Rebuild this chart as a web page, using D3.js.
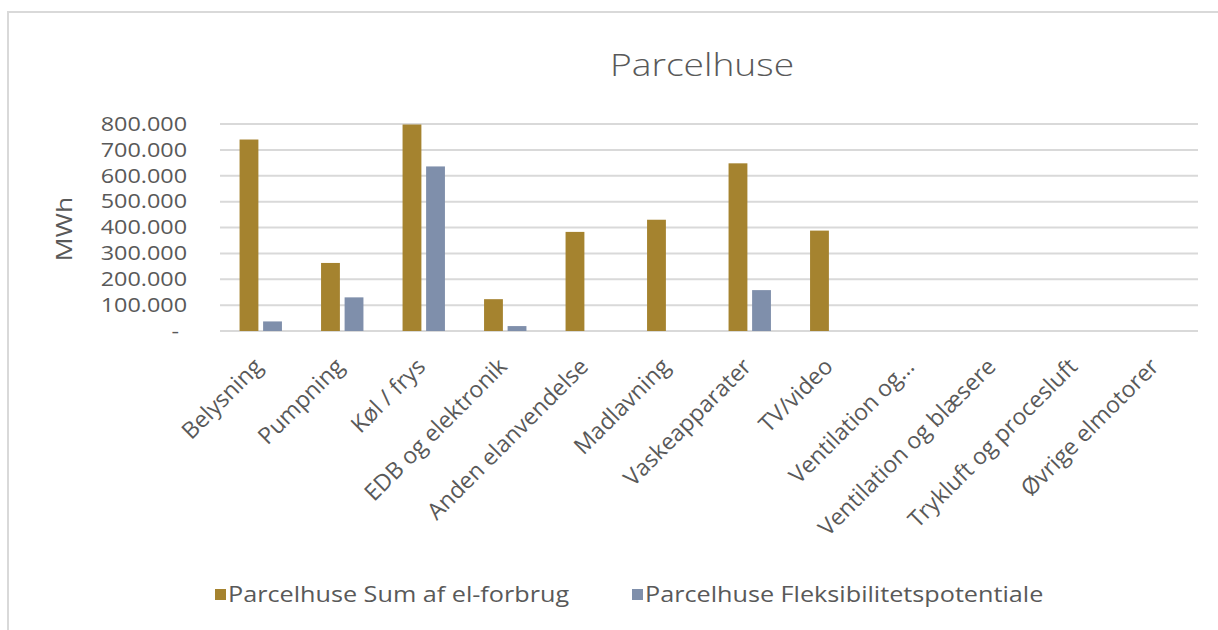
<!DOCTYPE html>
<html>
<head>
<meta charset="utf-8">
<script src="https://cdn.jsdelivr.net/npm/d3@7"></script>
<style>
	body { margin: 0; background: #fff; }
	text { font-family: "Open Sans", Lato, sans-serif; fill: #595959; }
</style>
</head>
<body>
<div class="chart"></div>
<script>
var categories = ["Belysning", "Pumpning", "Køl / frys", "EDB og elektronik", "Anden elanvendelse",
	"Madlavning", "Vaskeapparater", "TV/video", "Ventilation og…", "Ventilation og blæsere",
	"Trykluft og procesluft", "Øvrige elmotorer"];

var seriesNames = ["Parcelhuse Sum af el-forbrug", "Parcelhuse Fleksibilitetspotentiale"];

var forbrug = [740000, 263000, 798000, 123000, 383000, 430000, 648000, 388000, 0, 0, 0, 0];
var fleks = [37000, 130000, 636000, 19000, 0, 0, 158000, 0, 0, 0, 0, 0];

var yTicks = [0, 100000, 200000, 300000, 400000, 500000, 600000, 700000, 800000];

var colors = ["#a5832f", "#7f8fab"];

(function() {
	var width = 1218,
		height = 630;

	var left = 220, right = 1198,
		top = 124, bottom = 331;

	// the original text is drawn a bit wider than Open Sans
	var stretch = "scale(1.2,1)";

	var svg = d3.select(".chart").append("svg")
		.attr("width", width)
		.attr("height", height);

	// chart frame, only top and left edges show
	svg.append("rect")
		.attr("x", 8).attr("y", 12)
		.attr("width", 1300).attr("height", 700)
		.attr("fill", "none")
		.attr("stroke", "#d9d9d9")
		.attr("stroke-width", 2);

	var locale = d3.formatLocale({decimal: ",", thousands: ".", grouping: [3], currency: ["", ""]});
	var fmt = locale.format(",.0f");

	var x0 = d3.scaleBand()
		.domain(categories)
		.range([left, right])
		.paddingInner(0.48)
		.paddingOuter(0.24);

	var x1 = d3.scaleBand()
		.domain([0, 1])
		.range([0, x0.bandwidth()])
		.paddingInner(0.2);

	var y = d3.scaleLinear()
		.domain([0, 800000])
		.range([bottom, top]);

	// grid
	svg.append("g").selectAll("line")
		.data(yTicks)
		.enter().append("line")
		.attr("x1", left).attr("x2", right)
		.attr("y1", function(d) { return y(d); })
		.attr("y2", function(d) { return y(d); })
		.attr("stroke", "#d9d9d9")
		.attr("stroke-width", 2);

	// y axis labels
	var yAxis = d3.axisLeft(y)
		.tickValues(yTicks)
		.tickSize(0)
		.tickPadding(0)
		.tickFormat(function(d) { return d === 0 ? "-" : fmt(d); });

	svg.append("g")
		.attr("transform", "translate(187,0)")
		.call(yAxis)
		.call(function(g) { g.select(".domain").remove(); })
		.selectAll("text")
		.attr("font-size", 19.5)
		.attr("font-family", "'Open Sans', sans-serif")
		.attr("fill", "#595959")
		.attr("transform", function(d) { return d === 0 ? "translate(-8,0) " + stretch : stretch; });

	svg.append("text")
		.attr("transform", "translate(72,229) rotate(-90) " + stretch)
		.attr("text-anchor", "middle")
		.attr("font-size", 22)
		.text("MWh");

	// bars
	var data = categories.map(function(c, i) {
		return {cat: c, values: [forbrug[i], fleks[i]]};
	});

	var groups = svg.append("g").selectAll("g")
		.data(data)
		.enter().append("g")
		.attr("transform", function(d) { return "translate(" + x0(d.cat) + ",0)"; });

	groups.selectAll("rect")
		.data(function(d) { return d.values.map(function(v, s) { return {s: s, v: v}; }); })
		.enter().append("rect")
		.filter(function(d) { return d.v > 0; })
		.attr("x", function(d) { return x1(d.s); })
		.attr("width", x1.bandwidth())
		.attr("y", function(d) { return y(d.v); })
		.attr("height", function(d) { return y(0) - y(d.v); })
		.attr("fill", function(d) { return colors[d.s]; });

	// x axis labels
	var xAxis = d3.axisBottom(x0).tickSize(0).tickPadding(0);
	var xg = svg.append("g")
		.attr("transform", "translate(0," + bottom + ")")
		.call(xAxis);
	xg.select(".domain").remove();
	xg.selectAll("text")
		.attr("font-size", 23)
		.attr("font-family", "'Open Sans', sans-serif")
		.attr("fill", "#595959")
		.attr("text-anchor", "end")
		.attr("y", 0)
		.attr("dy", 0)
		.attr("transform", "translate(3,37) rotate(-45)");

	// title
	svg.append("text")
		.attr("transform", "translate(702,76) " + stretch)
		.attr("text-anchor", "middle")
		.attr("font-size", 31)
		.attr("font-weight", 300)
		.text("Parcelhuse");

	// legend
	var legendX = [215, 632];
	var lg = svg.append("g").selectAll("g")
		.data(seriesNames)
		.enter().append("g")
		.attr("transform", function(d, i) { return "translate(" + legendX[i] + ",589)"; });

	lg.append("rect")
		.attr("width", 11).attr("height", 11)
		.attr("fill", function(d, i) { return colors[i]; });

	lg.append("text")
		.attr("transform", "translate(13,6) " + stretch)
		.attr("dy", "0.35em")
		.attr("font-size", 21)
		.text(function(d) { return d; });
})();
</script>
</body>
</html>
